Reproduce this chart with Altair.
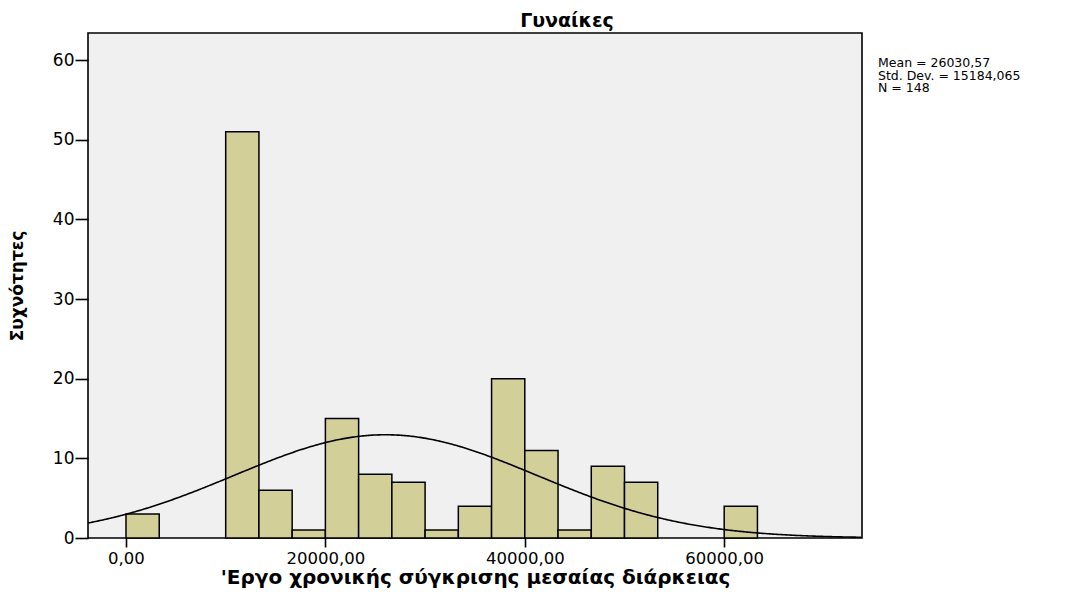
import altair as alt
import pandas as pd

# ---- data ----
bin_counts = [3, 0, 0, 51, 6, 1, 15, 8, 7, 1, 4, 20, 11, 1, 9, 7, 0, 0, 4]
bin_width = 60000 / 18
bin_starts = [i * bin_width for i in range(len(bin_counts))]

x_tick_values = [0, 20000, 40000, 60000]
x_tick_labels = ["0,00", "20000,00", "40000,00", "60000,00"]
y_tick_values = [0, 10, 20, 30, 40, 50, 60]

mean_val = 26030.57
sd_val = 15184.065
n_val = 148

title_text = "Γυναίκες"
x_title = "'Εργο χρονικής σύγκρισης μεσαίας διάρκειας"
y_title = "Συχνότητες"
stats_lines = ["Mean = 26030,57", "Std. Dev. = 15184,065", "N = 148"]

x_domain = [-3811, 73821]
y_domain = [0, 63.4]

W, H = 774, 505
FONT = "DejaVu Sans"

bars_df = pd.DataFrame({
    "start": bin_starts,
    "end": [s + bin_width for s in bin_starts],
    "count": bin_counts,
})
bars_df = bars_df[bars_df["count"] > 0]

label_expr = " : ".join(
    f"datum.value == {v} ? '{l}'" for v, l in zip(x_tick_values, x_tick_labels)
) + " : ''"

xscale = alt.Scale(domain=x_domain, nice=False, zero=False)
yscale = alt.Scale(domain=y_domain, nice=False)

x_axis = alt.Axis(
    values=x_tick_values, labelExpr=label_expr, title=x_title,
    grid=False, domain=False, tickSize=9, tickWidth=1.6, tickColor="black",
    labelFont=FONT, labelFontSize=16.5, labelColor="black", labelPadding=3,
    titleFont=FONT, titleFontSize=20, titleFontWeight="bold", titleColor="black",
    titleY=45, titleBaseline="alphabetic",
)
y_axis = alt.Axis(
    values=y_tick_values, title=y_title, grid=False, domain=False,
    tickSize=13, tickWidth=1.6, tickColor="black",
    labelFont=FONT, labelFontSize=17, labelColor="black", labelPadding=1,
    titleFont=FONT, titleFontSize=17, titleFontWeight="bold", titleColor="black",
    titleX=-71, titleY=H / 2, titleAngle=-90, titleAlign="center", titleBaseline="middle",
)

bars = alt.Chart(bars_df).mark_rect(
    fill="#d3cf98", stroke="black", strokeWidth=1.5
).encode(
    x=alt.X("start:Q", scale=xscale, axis=x_axis),
    x2="end:Q",
    y=alt.Y("count:Q", scale=yscale, axis=y_axis),
    y2=alt.datum(0),
)

scale_factor = n_val * bin_width / (sd_val * 2.5066282746)
curve = alt.Chart(alt.sequence(x_domain[0], x_domain[1] + 1, 150, as_="xv")).transform_calculate(
    dens=f"{scale_factor} * exp(-0.5 * pow((datum.xv - {mean_val}) / {sd_val}, 2))"
).mark_line(color="black", strokeWidth=1.6).encode(
    x=alt.X("xv:Q", scale=xscale),
    y=alt.Y("dens:Q", scale=yscale),
)

title_mark = alt.Chart(pd.DataFrame({"t": [title_text]})).mark_text(
    font=FONT, fontSize=19, fontWeight="bold", color="black",
    align="center", baseline="alphabetic",
).encode(text="t:N", x=alt.value(479), y=alt.value(-6))

stats_mark = alt.Chart(pd.DataFrame({"t": [0]})).mark_text(
    font=FONT, fontSize=12.5, color="black", align="left", baseline="alphabetic",
    lineHeight=12.5,
).encode(text=alt.value(stats_lines), x=alt.value(790), y=alt.value(34))

chart = alt.layer(bars, curve, title_mark, stats_mark).properties(
    width=W, height=H,
    padding={"left": 80, "top": 25, "right": 216, "bottom": 51},
    autosize="none",
    background="white",
).configure_view(
    fill="#f0f0f0", stroke="black", strokeWidth=1.6
)

chart.save("out.html", embed_options={"renderer": "svg", "actions": False})
